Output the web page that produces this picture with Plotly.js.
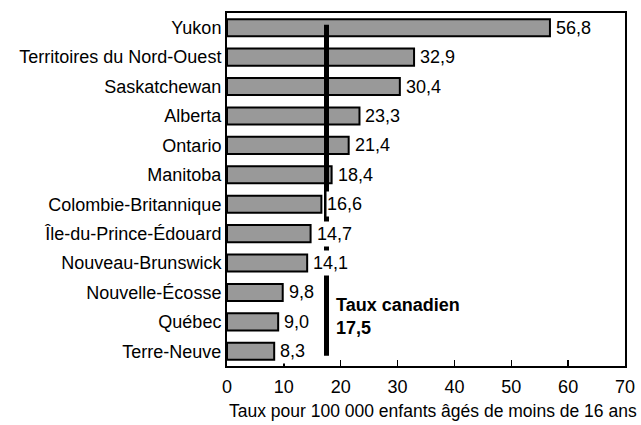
<!DOCTYPE html>
<html>
<head>
<meta charset="utf-8">
<script src="https://cdn.plot.ly/plotly-3.0.1.min.js"></script>
<style>html,body{margin:0;padding:0;background:#fff;}#chart{width:641px;height:425px;}</style>
</head>
<body>
<div id="chart"></div>
<script>
const provinces = ["Yukon","Territoires du Nord-Ouest","Saskatchewan","Alberta","Ontario","Manitoba","Colombie-Britannique","Île-du-Prince-Édouard","Nouveau-Brunswick","Nouvelle-Écosse","Québec","Terre-Neuve"];
const rates = [56.8, 32.9, 30.4, 23.3, 21.4, 18.4, 16.6, 14.7, 14.1, 9.8, 9.0, 8.3];
const canadianRate = [17.5];
const xTicks = [0, 10, 20, 30, 40, 50, 60, 70];
const xTitle = "Taux pour 100 000 enfants âgés de moins de 16 ans";
const refLabel = "Taux canadien";

const fmt = v => v.toFixed(1).replace('.', ',');
const FONT = "Liberation Sans, Arial, sans-serif";
const FS = 18;

const trace = {
  type: 'bar', orientation: 'h',
  x: rates, y: provinces,
  marker: {color: '#999999', line: {color: '#000', width: 2}},
  hoverinfo: 'none'
};

const annotations = rates.map((v, i) => ({
  x: v, y: provinces[i], xref: 'x', yref: 'y',
  text: fmt(v), showarrow: false, xanchor: 'left', yanchor: 'middle',
  xshift: 5, bgcolor: '#ffffff', borderpad: 0, height: 24,
  font: {family: FONT, size: FS, color: '#000'}
}));
annotations.push({
  x: canadianRate[0], y: 9.82, xref: 'x', yref: 'y',
  text: '<b>' + refLabel + '</b><br><b>' + fmt(canadianRate[0]) + '</b>',
  showarrow: false, xanchor: 'left', yanchor: 'middle', align: 'left', xshift: 7,
  font: {family: FONT, size: FS, color: '#000'}
});
annotations.push({
  x: 0.5, y: 0, xref: 'paper', yref: 'paper', text: xTitle,
  showarrow: false, xanchor: 'center', yanchor: 'top', xshift: 6.5, yshift: -33,
  font: {family: FONT, size: 17.5, color: '#000'}
});

const layout = {
  width: 641, height: 425,
  margin: {l: 227, r: 16, t: 13, b: 59},
  paper_bgcolor: '#fff', plot_bgcolor: '#fff',
  font: {family: FONT, size: FS, color: '#000'},
  showlegend: false,
  bargap: 0.42,
  xaxis: {
    range: [0, 70], tickvals: xTicks, ticktext: xTicks.map(String),
    ticks: 'inside', ticklen: 6, tickwidth: 1.5, tickcolor: '#000',
    ticklabelstandoff: 3,
    showline: true, linecolor: '#000', linewidth: 2, mirror: true,
    showgrid: false, zeroline: false,
    tickfont: {family: FONT, size: FS, color: '#000'}
  },
  yaxis: {
    type: 'category', autorange: 'reversed',
    showline: true, linecolor: '#000', linewidth: 2, mirror: true,
    ticks: '', showgrid: false, zeroline: false,
    tickfont: {family: FONT, size: FS, color: '#000'}
  },
  shapes: [{
    type: 'line', xref: 'x', yref: 'y', layer: 'above',
    x0: canadianRate[0], x1: canadianRate[0], y0: -0.1, y1: 11.15,
    line: {color: '#000', width: 5}
  }],
  annotations: annotations
};

Plotly.newPlot('chart', [trace], layout, {displayModeBar: false, staticPlot: true});
</script>
</body>
</html>
